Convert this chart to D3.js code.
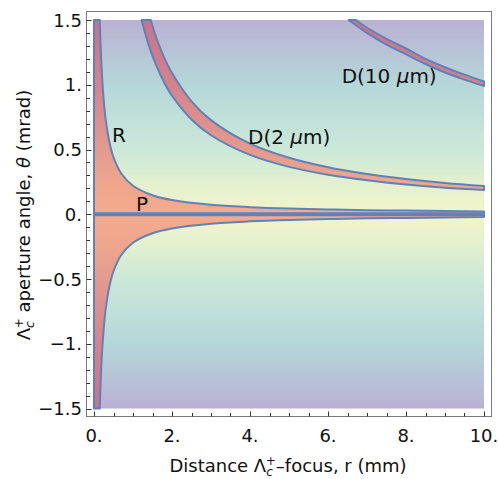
<!DOCTYPE html>
<html><head><meta charset="utf-8">
<script src="https://cdn.jsdelivr.net/npm/d3@7"></script>
<style>body{margin:0;background:#fff}svg{display:block}</style>
</head><body>
<svg id="c" width="498" height="479"></svg>
<script>
// ---- data ----
const xTicks = [0, 2, 4, 6, 8, 10];
const xTickLabels = ["0.", "2.", "4.", "6.", "8.", "10."];
const yTicks = [-1.5, -1, -0.5, 0, 0.5, 1, 1.5];
const yTickLabels = ["\u22121.5", "\u22121.", "\u22120.5", "0.", "0.5", "1.", "1.5"];

// R region boundary (upper), r in mm, theta in mrad
const rUpperR = [0.147, 0.17, 0.2, 0.25, 0.3, 0.4, 0.5, 0.7, 1.0, 1.5, 2, 3, 4, 5, 6, 7, 8, 9, 10];
const rUpperT = [1.5, 1.3, 1.1, 0.88, 0.73, 0.55, 0.44, 0.315, 0.22, 0.147, 0.11, 0.073, 0.055, 0.044, 0.037, 0.031, 0.028, 0.025, 0.022];
// R region boundary (lower)
const rLowerR = [0.147, 0.17, 0.2, 0.25, 0.3, 0.4, 0.5, 0.7, 1.0, 1.5, 2, 3, 4, 5, 6, 7, 8, 9, 10];
const rLowerT = [-1.5, -1.3, -1.1, -0.88, -0.73, -0.55, -0.44, -0.315, -0.22, -0.147, -0.11, -0.073, -0.055, -0.044, -0.037, -0.031, -0.028, -0.025, -0.022];

// D(2 um) band
const d2OuterR = [1.455, 1.6, 1.8, 2, 2.5, 3, 4, 5, 6, 7, 8, 9, 10];
const d2OuterT = [1.5, 1.36, 1.21, 1.09, 0.872, 0.727, 0.545, 0.436, 0.363, 0.311, 0.273, 0.242, 0.218];
const d2InnerR = [1.22, 1.4, 1.6, 1.8, 2, 2.5, 3, 4, 5, 6, 7, 8, 9, 10];
const d2InnerT = [1.5, 1.31, 1.145, 1.017, 0.915, 0.732, 0.61, 0.458, 0.366, 0.305, 0.262, 0.229, 0.204, 0.188];

// D(10 um) band
const d10OuterR = [6.72, 7, 7.5, 8, 8.5, 9, 9.5, 10];
const d10OuterT = [1.5, 1.44, 1.355, 1.28, 1.2, 1.135, 1.078, 1.025];
const d10InnerR = [6.53, 7, 7.5, 8, 8.5, 9, 9.5, 10];
const d10InnerT = [1.5, 1.4, 1.31, 1.235, 1.16, 1.095, 1.04, 0.99];

// P region (thin band around theta = 0)
const pR = [0, 10];
const pT = [0.008, -0.008];

// colour bands (theta, colour)
const gradTheta = [1.5, 1.0, 0.5, 0.25, 0, -0.25, -0.5, -1.0, -1.5];
const bgColors = ["#bab1d3", "#b5d7d9", "#cbe8d8", "#e2f0cf", "#f4f4ca", "#e2f0cf", "#cbe8d8", "#b5d7d9", "#bab1d3"];
const fillColors = ["#c8738a", "#d4838e", "#e49a8e", "#eea68c", "#f4aa8c", "#eea68c", "#e49a8e", "#d4838e", "#c8738a"];

const labels = [
  {t: "R", r: 0.46, th: 0.555},
  {t: "P", r: 1.08, th: 0.024},
  {t: "D(2 ", mu: true, end: ")", r: 3.95, th: 0.54},
  {t: "D(10 ", mu: true, end: ")", r: 6.35, th: 1.015}
];

// ---- drawing ----
const svg = d3.select("#c");
const x = d3.scaleLinear().domain([0, 10]).range([94, 484]);
const y = d3.scaleLinear().domain([-1.5, 1.5]).range([408.5, 20]);
const F = "DejaVu Sans, Verdana, sans-serif";
const stroke = "#5f82b8";

const defs = svg.append("defs");
function grad(id, cols) {
  const g = defs.append("linearGradient").attr("id", id)
    .attr("gradientUnits", "userSpaceOnUse")
    .attr("x1", 0).attr("x2", 0).attr("y1", y(1.5)).attr("y2", y(-1.5));
  gradTheta.forEach((t, i) => g.append("stop")
    .attr("offset", (1.5 - t) / 3).attr("stop-color", cols[i]));
}
grad("bg", bgColors);
grad("fill", fillColors);

svg.append("rect").attr("x", x(0)).attr("y", y(1.5))
  .attr("width", x(10) - x(0)).attr("height", y(-1.5) - y(1.5))
  .attr("fill", "url(#bg)");

const line = d3.line().x(d => x(d[0])).y(d => y(d[1])).curve(d3.curveCatmullRom.alpha(0.5));
const zip = (a, b) => a.map((v, i) => [v, b[i]]);
function cont(p) { return "L" + p.slice(1); }

function region(path) {
  svg.append("path").attr("d", path)
    .attr("fill", "url(#fill)").attr("stroke", stroke)
    .attr("stroke-width", 2).attr("stroke-linejoin", "round");
}

// R
{
  const up = zip(rUpperR, rUpperT);
  const lo = zip(rLowerR, rLowerT).reverse();
  const p = `M${x(0)},${y(1.5)}` + cont(line(up)) + cont(line(lo)) + `L${x(0)},${y(-1.5)}Z`;
  region(p);
}
// D2
{
  const outer = zip(d2OuterR, d2OuterT);
  const inner = zip(d2InnerR, d2InnerT).reverse();
  region(line(outer) + cont(line(inner)) + "Z");
}
// D10
{
  const outer = zip(d10OuterR, d10OuterT);
  const inner = zip(d10InnerR, d10InnerT).reverse();
  region(line(outer) + cont(line(inner)) + "Z");
}
// P
region(`M${x(pR[0])},${y(pT[0])}L${x(pR[1])},${y(pT[0])}L${x(pR[1])},${y(pT[1])}L${x(pR[0])},${y(pT[1])}Z`);

// labels
labels.forEach(l => {
  const t = svg.append("text").attr("x", x(l.r)).attr("y", y(l.th))
    .attr("font-family", F).attr("font-size", 20).attr("fill", "#111");
  t.append("tspan").text(l.t);
  if (l.mu) {
    t.append("tspan").attr("font-style", "italic").text("\u03bc");
    t.append("tspan").text("m" + l.end);
  }
});

// frame
const fx0 = 86, fx1 = 491, fy0 = 11, fy1 = 416;
svg.append("rect").attr("x", fx0 + 0.5).attr("y", fy0 + 0.5)
  .attr("width", fx1 - fx0).attr("height", fy1 - fy0)
  .attr("fill", "none").attr("stroke", "#7a7a7a").attr("stroke-width", 1);

// ticks
const tk = svg.append("g").attr("stroke", "#333").attr("stroke-width", 1);
d3.range(0, 10.001, 0.5).forEach(v => {
  const major = xTicks.some(m => Math.abs(m - v) < 1e-6);
  const px = Math.round(x(v)) + 0.5;
  tk.append("line").attr("x1", px).attr("x2", px)
    .attr("y1", fy1 + 0.5).attr("y2", fy1 + 0.5 - (major ? 5 : 3.5));
});
d3.range(-15, 15.001, 1).forEach(k => {
  const v = k / 10;
  const major = yTicks.some(m => Math.abs(m - v) < 1e-6);
  const py = Math.round(y(v)) + 0.5;
  tk.append("line").attr("y1", py).attr("y2", py)
    .attr("x1", fx0 + 0.5).attr("x2", fx0 + 0.5 + (major ? 5 : 3.5));
});

// tick labels
xTicks.forEach((v, i) => svg.append("text").attr("x", x(v)).attr("y", 442)
  .attr("text-anchor", "middle").attr("font-family", F).attr("font-size", 18)
  .attr("fill", "#111").text(xTickLabels[i]));
yTicks.forEach((v, i) => svg.append("text").attr("x", 82).attr("y", y(v) + 6.5)
  .attr("text-anchor", "end").attr("font-family", F).attr("font-size", 18)
  .attr("fill", "#111").text(yTickLabels[i]));

// axis titles
function lambda(t) {
  t.append("tspan").text("\u039b");
  t.append("tspan").attr("font-size", 12).attr("font-style", "italic").attr("dy", 4).text("c");
  t.append("tspan").attr("font-size", 12).attr("dx", -7).attr("dy", -11).text("+");
  return t;
}
{
  const t = svg.append("text").attr("x", 288).attr("y", 472).attr("text-anchor", "middle")
    .attr("font-family", F).attr("font-size", 18).attr("fill", "#111");
  t.append("tspan").text("Distance ");
  lambda(t);
  t.append("tspan").attr("dy", 7).text("\u2013focus, r (mm)");
}
{
  const t = svg.append("text").attr("transform", "translate(30,215) rotate(-90)")
    .attr("text-anchor", "middle")
    .attr("font-family", F).attr("font-size", 18).attr("fill", "#111");
  lambda(t);
  t.append("tspan").attr("dy", 7).text(" aperture angle, ");
  t.append("tspan").attr("font-style", "italic").text("\u03b8");
  t.append("tspan").text(" (mrad)");
}
</script>
</body></html>
